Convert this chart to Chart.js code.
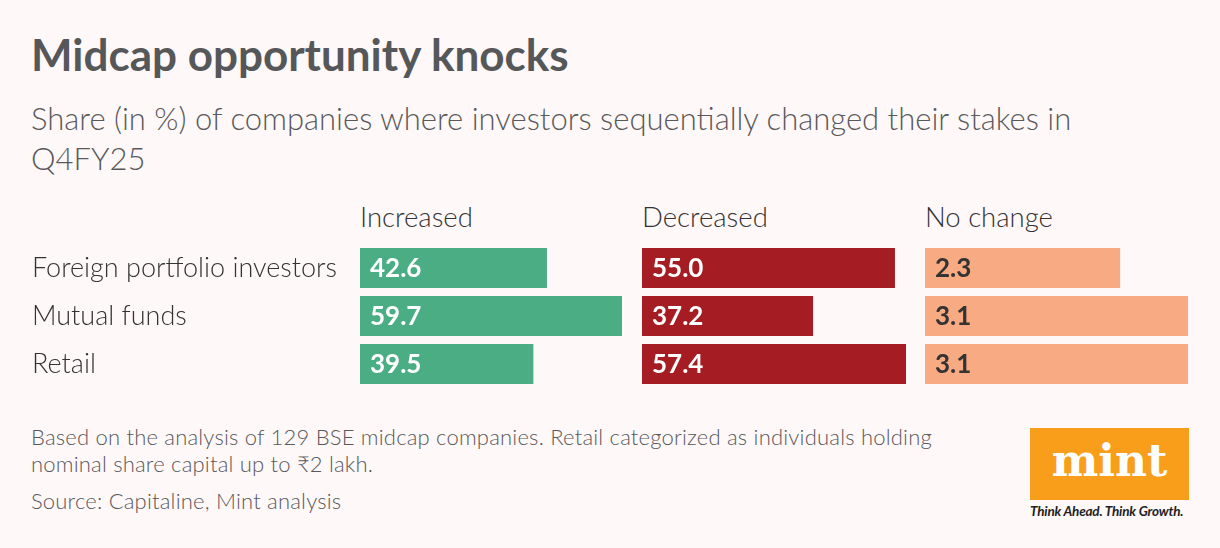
<!DOCTYPE html>
<html lang="en">
<head>
<meta charset="UTF-8">
<title>Midcap opportunity knocks</title>
<script src="https://cdn.jsdelivr.net/npm/chart.js@4"></script>
<style>
    * { box-sizing: border-box; margin: 0; padding: 0; }
    body {
        width: 1220px;
        height: 548px;
        background: #fff8f8;
        font-family: Lato, "Open Sans", sans-serif;
        color: #58595b;
        position: relative;
        overflow: hidden;
    }
    .abs { position: absolute; }
    h1 { left: 31px; top: 28px; font-size: 44px; font-weight: 700; color: #555759; }
    .sub { left: 31px; top: 98px; font-size: 31px; font-weight: 300; line-height: 40px; color: #59595b; width: 1100px; }
    .head { top: 200px; font-size: 27.5px; font-weight: 300; color: #333; }
    .note { left: 31px; font-size: 22px; font-weight: 300; color: #58595b; line-height: 27px; letter-spacing: 0.2px; }
    .logo { left: 1030px; top: 428px; width: 159px; height: 72px; background: #f89e1b; color: #fff;
            font-family: "DejaVu Serif", serif; font-weight: 700; font-size: 44px; text-align: center; line-height: 66px; }
    .tag { left: 1030px; top: 503px; font-size: 13.5px; font-style: italic; font-weight: 700; color: #222; letter-spacing: -0.2px; }
</style>
</head>
<body>
<h1 class="abs">Midcap opportunity knocks</h1>
<div class="abs sub">Share (in %) of companies where investors sequentially changed their stakes in Q4FY25</div>

<div class="abs head" style="left:360px">Increased</div>
<div class="abs head" style="left:642px">Decreased</div>
<div class="abs head" style="left:925px">No change</div>

<canvas id="c1" class="abs" width="590" height="144" style="left:32px; top:244px"></canvas>
<canvas id="c2" class="abs" width="264" height="144" style="left:642px; top:244px"></canvas>
<canvas id="c3" class="abs" width="263" height="144" style="left:925px; top:244px"></canvas>

<div class="abs note" style="top:423px">Based on the analysis of 129 BSE midcap companies. Retail categorized as individuals holding<br>nominal share capital up to ₹2 lakh.</div>
<div class="abs note" style="top:487px">Source: Capitaline, Mint analysis</div>

<div class="abs logo">mint</div>
<div class="abs tag">Think Ahead. Think Growth.</div>

<script>
    const investors = ["Foreign portfolio investors", "Mutual funds", "Retail"];
    const increased = [42.6, 59.7, 39.5];
    const decreased = [55.0, 37.2, 57.4];
    const noChange = [2.3, 3.1, 3.1];

    // writes the value inside each bar, near its base
    const valueLabels = {
        id: 'valueLabels',
        afterDatasetsDraw(chart, args, opts) {
            const ctx = chart.ctx;
            const meta = chart.getDatasetMeta(0);
            ctx.save();
            ctx.font = 'bold 26px Lato, sans-serif';
            ctx.fillStyle = opts.color;
            ctx.textBaseline = 'middle';
            meta.data.forEach((bar, i) => {
                const v = chart.data.datasets[0].data[i];
                ctx.fillText(v.toFixed(1), bar.base + 10, bar.y + 1);
            });
            ctx.restore();
        }
    };

    // each column is its own chart, scaled so its largest bar fills the column
    function makeChart(id, values, color, textColor, showLabels) {
        return new Chart(document.getElementById(id), {
            type: 'bar',
            data: {
                labels: investors,
                datasets: [{
                    data: values,
                    backgroundColor: color,
                    categoryPercentage: 1,
                    barPercentage: 40 / 48
                }]
            },
            options: {
                indexAxis: 'y',
                responsive: false,
                animation: false,
                layout: { padding: 0 },
                scales: {
                    x: { display: false, min: 0, max: Math.max(...values) },
                    y: {
                        display: showLabels,
                        grid: { display: false },
                        border: { display: false },
                        ticks: {
                            crossAlign: 'far',
                            padding: 0,
                            color: '#333',
                            font: { family: 'Lato', size: 27, weight: 300 }
                        },
                        afterFit(scale) {
                            scale.width = showLabels ? 328 : 0;
                            scale.paddingTop = 0;
                            scale.paddingBottom = 0;
                        }
                    }
                },
                plugins: {
                    legend: { display: false },
                    tooltip: { enabled: false },
                    valueLabels: { color: textColor }
                }
            },
            plugins: [valueLabels]
        });
    }

    makeChart('c1', increased, '#4aad84', '#ffffff', true);
    makeChart('c2', decreased, '#a51c22', '#ffffff', false);
    makeChart('c3', noChange, '#f8aa82', '#333333', false);
</script>
</body>
</html>
